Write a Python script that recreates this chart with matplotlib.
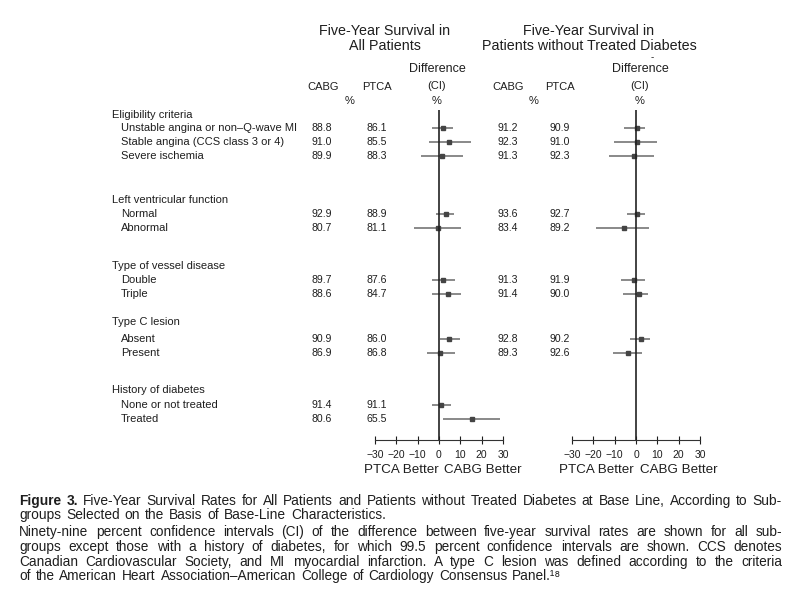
import numpy as np
import matplotlib
matplotlib.use("Agg")
import matplotlib.pyplot as plt

plt.rcParams['font.family'] = ['Liberation Sans', 'DejaVu Sans']

# Datos
grupos = ["Eligibility criteria", "Left ventricular function", "Type of vessel disease",
          "Type C lesion", "History of diabetes"]
etiquetas = ["Unstable angina or non\u2013Q-wave MI", "Stable angina (CCS class 3 or 4)",
             "Severe ischemia", "Normal", "Abnormal", "Double", "Triple",
             "Absent", "Present", "None or not treated", "Treated"]

cabg_all = [88.8, 91.0, 89.9, 92.9, 80.7, 89.7, 88.6, 90.9, 86.9, 91.4, 80.6]
ptca_all = [86.1, 85.5, 88.3, 88.9, 81.1, 87.6, 84.7, 86.0, 86.8, 91.1, 65.5]
dif_all = [2.0, 4.8, 1.2, 3.3, -0.6, 2.0, 4.2, 4.8, 0.5, 0.8, 15.3]
inf_all = [-3.1, -4.7, -8.6, -1.6, -11.6, -3.1, -3.1, 0.5, -5.8, -3.4, 2.0]
sup_all = [6.4, 14.9, 11.1, 7.0, 10.3, 7.5, 10.3, 9.9, 7.5, 5.5, 28.6]

# sin diabetes tratada (no hay filas de diabetes)
cabg_nd = [91.2, 92.3, 91.3, 93.6, 83.4, 91.3, 91.4, 92.8, 89.3]
ptca_nd = [90.9, 91.0, 92.3, 92.7, 89.2, 91.9, 90.0, 90.2, 92.6]
dif_nd = [0.5, 0.5, -0.8, 0.5, -5.6, -0.8, 1.4, 2.2, -3.8]
inf_nd = [-5.6, -10.3, -12.8, -4.1, -18.9, -6.9, -6.1, -2.7, -10.8]
sup_nd = [4.4, 10.0, 8.3, 4.4, 6.1, 4.1, 5.6, 6.7, 2.8]

ticks = [-30, -20, -10, 0, 10, 20, 30]

caption = [
    "Figure 3. Five-Year Survival Rates for All Patients and Patients without Treated Diabetes at Base Line, According to Sub-",
    "groups Selected on the Basis of Base-Line Characteristics.",
    "Ninety-nine percent confidence intervals (CI) of the difference between five-year survival rates are shown for all sub-",
    "groups except those with a history of diabetes, for which 99.5 percent confidence intervals are shown. CCS denotes",
    "Canadian Cardiovascular Society, and MI myocardial infarction. A type C lesion was defined according to the criteria",
    "of the American Heart Association\u2013American College of Cardiology Consensus Panel.\u00b9\u2078",
]
justificada = [True, False, True, True, True, False]
tam_caption = [9.9, 9.9, 9.8, 9.8, 9.8, 9.8]

# Posiciones (pixeles)
y_grupos = [115, 200, 266, 322, 390]
y_filas = [128, 142, 156, 214, 228, 280, 294, 339, 353, 405, 419]
tinta = "#1e1e1e"

fig = plt.figure(figsize=(8, 6), dpi=100)
ax0 = fig.add_axes([0, 0, 1, 1])
ax0.set_xlim(0, 800)
ax0.set_ylim(600, 0)
ax0.axis("off")

fs = 8
# Encabezados
for cx, lineas in [(385, ["Five-Year Survival in", "All Patients"]),
                   (589, ["Five-Year Survival in", "Patients without Treated Diabetes"])]:
    ax0.text(cx, 31, lineas[0], ha="center", va="center", fontsize=10.3, color=tinta)
    ax0.text(cx, 46, lineas[1], ha="center", va="center", fontsize=10.3, color=tinta)

for xc, xp, xd in [(323, 377, 437), (508, 560, 640)]:
    ax0.text(xc, 87, "CABG", ha="center", va="center", fontsize=fs, color=tinta)
    ax0.text(xp, 87, "PTCA", ha="center", va="center", fontsize=fs, color=tinta)
    ax0.text((xc + xp) / 2, 101, "%", ha="center", va="center", fontsize=fs, color=tinta)
    ax0.text(xd, 69, "Difference", ha="center", va="center", fontsize=9, color=tinta)
    ax0.text(xd, 86, "(CI)", ha="center", va="center", fontsize=fs, color=tinta)
    ax0.text(xd, 101, "%", ha="center", va="center", fontsize=fs, color=tinta)
ax0.text(652, 57, "-", ha="center", va="center", fontsize=7, color=tinta)

# Etiquetas de filas
for g, y in zip(grupos, y_grupos):
    ax0.text(112, y, g, ha="left", va="center", fontsize=fs, color=tinta)
for e, y in zip(etiquetas, y_filas):
    ax0.text(121, y, e, ha="left", va="center", fontsize=fs, color=tinta)

# Valores
fv = 7.6
for c, p, y in zip(cabg_all, ptca_all, y_filas):
    ax0.text(322, y, f"{c:.1f}", ha="center", va="center", fontsize=fv, color=tinta)
    ax0.text(377, y, f"{p:.1f}", ha="center", va="center", fontsize=fv, color=tinta)
for c, p, y in zip(cabg_nd, ptca_nd, y_filas):
    ax0.text(508, y, f"{c:.1f}", ha="center", va="center", fontsize=fv, color=tinta)
    ax0.text(560, y, f"{p:.1f}", ha="center", va="center", fontsize=fv, color=tinta)


def forest(x0, dif, inf, sup, mejor):
    ax = fig.add_axes([x0 / 800, 1 - 440 / 600, 128 / 800, 330 / 600])
    ax.set_xlim(-30, 30)
    ax.set_ylim(440, 110)
    yy = y_filas[:len(dif)]
    ax.hlines(yy, inf, sup, color="#6a6a6a", lw=1.1)
    ax.plot(dif, yy, "s", color="#444444", ms=3.5)
    ax.axvline(0, color="#222222", lw=1.2)
    for s in ["top", "right", "left"]:
        ax.spines[s].set_visible(False)
    ax.spines["bottom"].set_color("#333333")
    ax.set_yticks([])
    ax.set_xticks(ticks)
    ax.set_xticklabels([str(t).replace("-", "\u2212") for t in ticks])
    ax.tick_params(axis="x", direction="inout", length=6, width=0.8, labelsize=7.5,
                   colors=tinta, pad=4)
    ax.patch.set_alpha(0)
    ax0.text(mejor[0], 470, "PTCA Better", ha="center", va="center", fontsize=9.6, color=tinta)
    ax0.text(mejor[1], 470, "CABG Better", ha="center", va="center", fontsize=9.6, color=tinta)


forest(375, dif_all, inf_all, sup_all, (401, 483))
forest(572, dif_nd, inf_nd, sup_nd, (596, 679))

# Pie de figura (lineas justificadas entre x=19 y x=782)
y_cap = [501, 515, 532, 547, 562, 576]
r = fig.canvas.get_renderer()
for n, (t, y, just, fc) in enumerate(zip(caption, y_cap, justificada, tam_caption)):
    palabras = t.split(" ")
    objs = []
    for i, p in enumerate(palabras):
        negrita = (n == 0 and i < 2)
        objs.append(ax0.text(0, y, p, ha="left", va="center", fontsize=fc, color=tinta,
                             fontweight="bold" if negrita else "normal"))
    anchos = [o.get_window_extent(r).width for o in objs]
    espacio = fc * 100 / 72 * 0.278
    if just:
        hueco = (782 - 19 - sum(anchos)) / (len(palabras) - 1)
    else:
        hueco = espacio * 1.3
    x = 19
    for o, w in zip(objs, anchos):
        o.set_x(x)
        x += w + hueco

fig.savefig("out.png", dpi=100)
